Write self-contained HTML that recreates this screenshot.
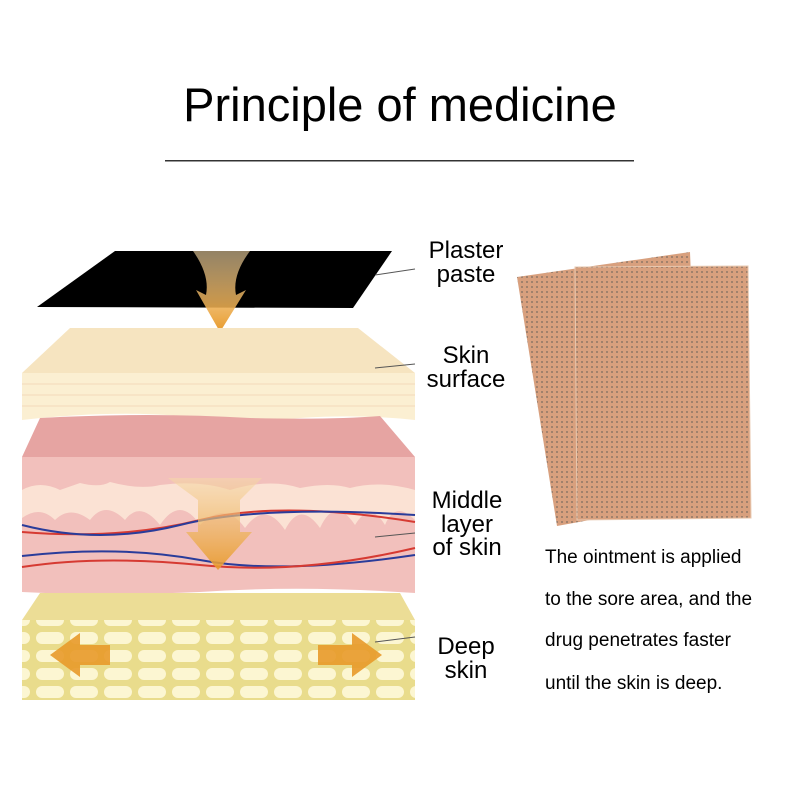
<!DOCTYPE html>
<html><head><style>
body{margin:0;background:#fff;}
svg{display:block}
text{font-family:"Liberation Sans",sans-serif;fill:#000}
</style></head><body>
<svg width="800" height="800" viewBox="0 0 800 800" xmlns="http://www.w3.org/2000/svg">
<defs>
<pattern id="dots" width="5" height="5" patternUnits="userSpaceOnUse">
<rect width="5" height="5" fill="#d8a07e"/><rect x="1" y="1" width="2" height="2" fill="#8a7464" opacity="0.7"/>
</pattern>
<pattern id="cells" width="34" height="18" patternUnits="userSpaceOnUse">
<rect width="34" height="18" fill="#e9dc8c"/>
<rect x="2" y="2" width="28" height="12" rx="6" fill="#fcf6d2"/>
</pattern>
<linearGradient id="ag" x1="0" y1="0" x2="0" y2="1"><stop offset="0" stop-color="#f5d9a8" stop-opacity="0.6"/><stop offset="1" stop-color="#e89a2a"/></linearGradient>
</defs>
<text x="400" y="121" font-size="47" text-anchor="middle">Principle of medicine</text>
<rect x="165" y="160" width="469" height="1.5" fill="#333"/>

<polygon points="115,251 392,251 353,308 37,307" fill="#000"/>
<path d="M193,251 L250,251 Q232,275 236,295 L246,290 L220,332 L196,290 L206,295 Q210,275 193,251Z" fill="url(#ag)"/>
<polygon points="70,328 358,328 415,373 22,373" fill="#f6e4c0"/>
<path d="M22,373 L415,373 L415,420 Q360,414 300,418 Q240,424 180,416 Q110,410 22,420Z" fill="#fbefd2"/>
<g stroke="#f0d0b0" stroke-width="0.8"><line x1="22" y1="384" x2="415" y2="384"/><line x1="22" y1="395" x2="415" y2="395"/><line x1="22" y1="406" x2="415" y2="406"/></g>
<path d="M40,418 Q150,412 250,418 Q330,420 380,416 L415,457 L22,457Z" fill="#e6a4a2"/>
<path d="M22,457 L415,457 L415,593 Q300,585 200,592 Q100,596 22,592Z" fill="#f2c0bc"/>
<path d="M22,490 Q40,480 60,490 L80,483 Q100,488 110,482 Q140,490 160,485 Q200,480 230,490 Q270,478 300,488 Q330,482 350,488 Q380,480 415,490 L415,520 Q395,500 385,525 Q370,500 355,525 Q335,495 320,528 Q300,500 285,530 Q265,500 245,528 Q225,500 200,525 Q180,495 160,525 Q140,500 125,520 Q105,500 90,520 Q70,505 55,520 Q40,505 22,518Z" fill="#fbe2d4"/>
<g fill="none" stroke-width="2">
<path d="M22,532 Q120,540 200,520 T415,522" stroke="#d63a32"/>
<path d="M22,525 Q100,545 180,525 T415,515" stroke="#2a3c9a"/>
<path d="M22,556 Q120,545 200,560 T415,555" stroke="#2a3c9a"/>
<path d="M22,567 Q100,555 200,565 T415,548" stroke="#d63a32"/>
</g>
<polygon points="168,478 262,478 240,500 240,532 252,532 218,570 186,532 198,532 198,500" fill="url(#ag)" opacity="0.9"/>
<polygon points="40,593 400,593 415,620 22,620" fill="#ecdd96"/>
<rect x="22" y="620" width="393" height="80" fill="url(#cells)"/>
<polygon points="50,655 80,633 80,645 110,645 110,665 80,665 80,677" fill="#e89a2a" opacity="0.9"/>
<polygon points="382,655 352,633 352,645 318,645 318,665 352,665 352,677" fill="#e89a2a" opacity="0.9"/>
<g stroke="#555" stroke-width="1"><line x1="375" y1="275" x2="415" y2="269"/><line x1="375" y1="368" x2="415" y2="364"/><line x1="375" y1="537" x2="415" y2="533"/><line x1="375" y1="642" x2="415" y2="637"/></g>
<g font-size="24" text-anchor="middle">
<text x="466" y="258">Plaster</text><text x="466" y="282">paste</text>
<text x="466" y="363">Skin</text><text x="466" y="387">surface</text>
<text x="467" y="508">Middle</text><text x="467" y="532">layer</text><text x="467" y="555">of skin</text>
<text x="466" y="654">Deep</text><text x="466" y="678">skin</text>
</g>
<polygon points="517,277 690,252 700,500 557,526" fill="url(#dots)"/>
<polygon points="575,267 748,266 751,518 577,520" fill="url(#dots)" stroke="#e8c8b0" stroke-width="1"/>
<g font-size="19">
<text x="545" y="563">The ointment is applied</text>
<text x="545" y="605">to the sore area, and the</text>
<text x="545" y="646">drug penetrates faster</text>
<text x="545" y="689">until the skin is deep.</text>
</g>
</svg>
</body></html>
